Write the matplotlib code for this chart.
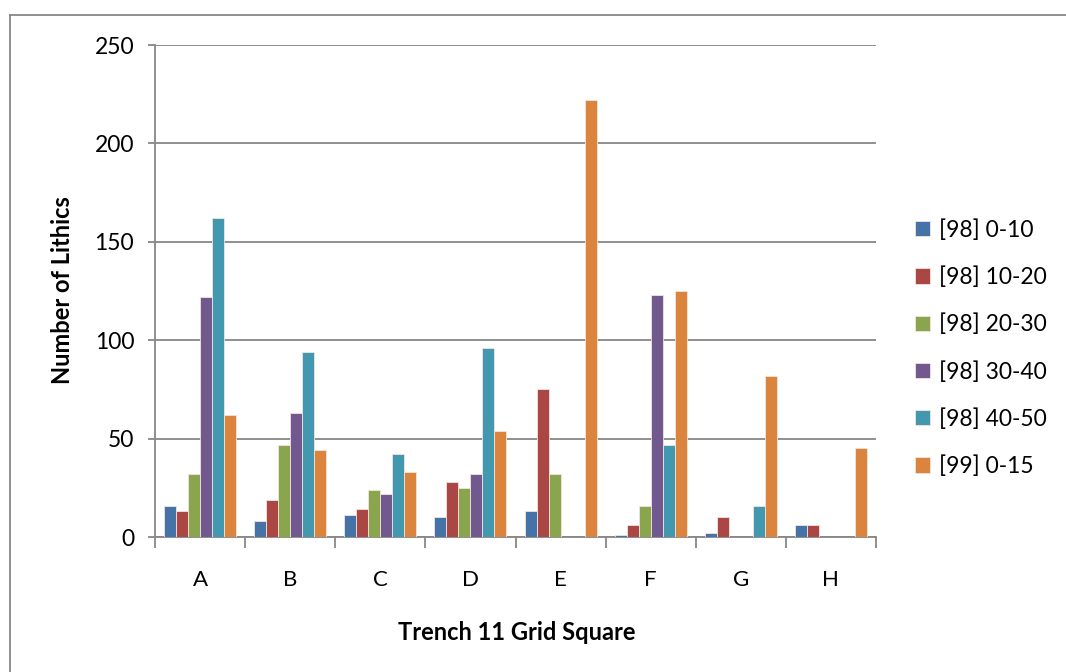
import numpy as np
import matplotlib
matplotlib.use("Agg")
import matplotlib.pyplot as plt
from matplotlib.lines import Line2D

plt.rcParams['font.family'] = ['Lato', 'DejaVu Sans']

# ---- data ---------------------------------------------------------------
squares = ["A", "B", "C", "D", "E", "F", "G", "H"]
series_names = ["[98] 0-10", "[98] 10-20", "[98] 20-30",
                "[98] 30-40", "[98] 40-50", "[99] 0-15"]
s98_0_10  = [16, 8, 11, 10, 13, 1, 2, 6]
s98_10_20 = [13, 19, 14, 28, 75, 6, 10, 6]
s98_20_30 = [32, 47, 24, 25, 32, 16, 0, 0]
s98_30_40 = [122, 63, 22, 32, 0, 123, 0, 0]
s98_40_50 = [162, 94, 42, 96, 0, 47, 16, 0]
s99_0_15  = [62, 44, 33, 54, 222, 125, 82, 45]
colors = ["#4572A7", "#AA4643", "#89A54E", "#71588F", "#4198AF", "#DB843D"]

series = [s98_0_10, s98_10_20, s98_20_30, s98_30_40, s98_40_50, s99_0_15]

# ---- figure ---------------------------------------------------------------
W, H = 1066, 672
fig = plt.figure(figsize=(W / 100, H / 100), dpi=100)
ax = fig.add_axes([155 / W, 1 - 537 / H, 721 / W, 492 / H])

x = np.arange(len(squares))
bw = 0.8 / 6
for i, (vals, name, c) in enumerate(zip(series, series_names, colors)):
    ax.bar(x - 0.4 + bw * (i + 0.5), vals, width=bw, color=c,
           edgecolor="#f4e4dc", linewidth=0.6, label=name, zorder=3)

ax.set_xlim(-0.5, len(squares) - 0.5)
ax.set_ylim(0, 250)
ax.set_yticks(range(0, 251, 50))
ax.yaxis.grid(True, color="#878787", linewidth=1.3, zorder=0)
ax.set_xticks(np.arange(-0.5, len(squares), 1))
ax.set_xticklabels([])
ax.set_xticks(x, minor=True)
ax.set_xticklabels(squares, minor=True)
ax.tick_params(axis="x", which="minor", length=0, pad=24, labelsize=16)
ax.tick_params(axis="x", which="major", length=8, width=1.3, color="#878787")
ax.tick_params(axis="y", length=5, width=1.3, color="#878787", pad=10, labelsize=16.5)

for side in ["top", "right"]:
    ax.spines[side].set_visible(False)
for side in ["left", "bottom"]:
    ax.spines[side].set_color("#878787")
    ax.spines[side].set_linewidth(1.3)

fig.text(517 / W, 1 - 632 / H, "Trench 11 Grid Square", ha="center", va="center",
         fontsize=17, fontweight="bold")
fig.text(62 / W, 1 - 290 / H, "Number of Lithics", ha="center", va="center",
         rotation=90, fontsize=17, fontweight="bold")

fig.legend(loc="upper left", bbox_to_anchor=(915 / W, 1 - 219 / H), frameon=False,
           fontsize=16.5, handlelength=0.65, handleheight=0.65, handletextpad=0.4,
           labelspacing=1.12, borderaxespad=0, borderpad=0)

# chart area border
fig.add_artist(Line2D([10 / W, 1.0], [1 - 15 / H, 1 - 15 / H], color="#878787", lw=1.3))
fig.add_artist(Line2D([10 / W, 10 / W], [0.0, 1 - 15 / H], color="#878787", lw=1.3))

fig.savefig("out.png", dpi=100)
